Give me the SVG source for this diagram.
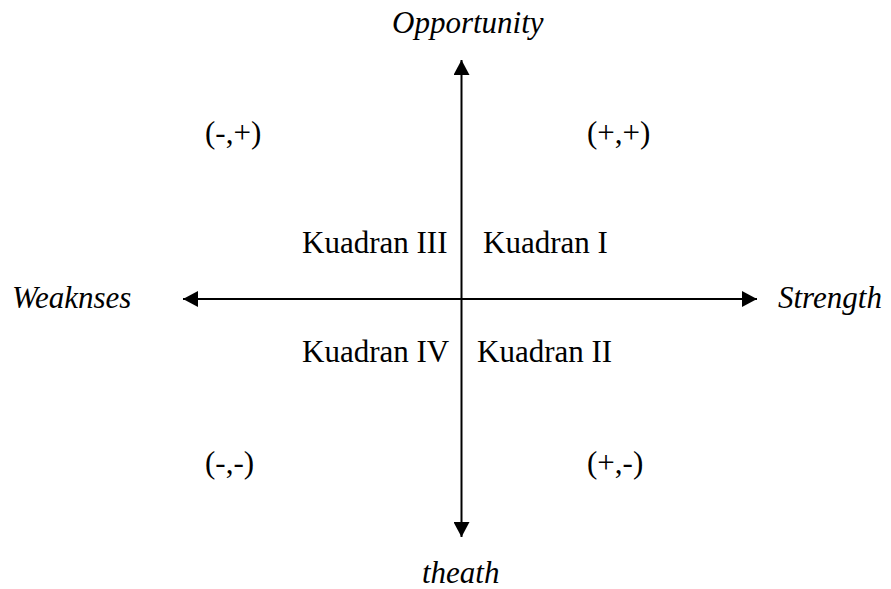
<svg xmlns="http://www.w3.org/2000/svg" width="891" height="589" viewBox="0 0 891 589">
<style>
.t{font-family:"Liberation Serif","Times New Roman",serif;font-size:31px;fill:#000}
.i{font-style:italic}
.ax{stroke:#000;stroke-width:2;fill:none}
</style>
<defs>
<marker id="ah" markerWidth="16" markerHeight="16" refX="15" refY="8" orient="auto" markerUnits="userSpaceOnUse">
<path d="M0,0 L15,8 L0,16 Z" fill="#000"/>
</marker>
</defs>
<rect width="891" height="589" fill="#fff"/>
<g id="connectors">
<line class="ax" x1="461.5" y1="300" x2="461.5" y2="60" marker-end="url(#ah)"/>
<line class="ax" x1="461.5" y1="300" x2="461.5" y2="537" marker-end="url(#ah)"/>
<line class="ax" x1="461.5" y1="299" x2="183" y2="299" marker-end="url(#ah)"/>
<line class="ax" x1="461.5" y1="299" x2="757" y2="299" marker-end="url(#ah)"/>
</g>
<g id="opportunity"><text class="t i" x="392" y="33">Opportunity</text></g>
<g id="theath"><text class="t i" x="422" y="583">theath</text></g>
<g id="weaknses"><text class="t i" x="12" y="308">Weaknses</text></g>
<g id="strength"><text class="t i" x="778" y="308">Strength</text></g>
<g id="q-mp"><text class="t" x="205" y="143">(-,+)</text></g>
<g id="q-pp"><text class="t" x="587" y="143">(+,+)</text></g>
<g id="q-mm"><text class="t" x="205" y="473">(-,-)</text></g>
<g id="q-pm"><text class="t" x="587" y="473">(+,-)</text></g>
<g id="kuadran3"><text class="t" x="302" y="253">Kuadran III</text></g>
<g id="kuadran1"><text class="t" x="483" y="253">Kuadran I</text></g>
<g id="kuadran4"><text class="t" x="302" y="362">Kuadran IV</text></g>
<g id="kuadran2"><text class="t" x="477" y="362">Kuadran II</text></g>
</svg>
